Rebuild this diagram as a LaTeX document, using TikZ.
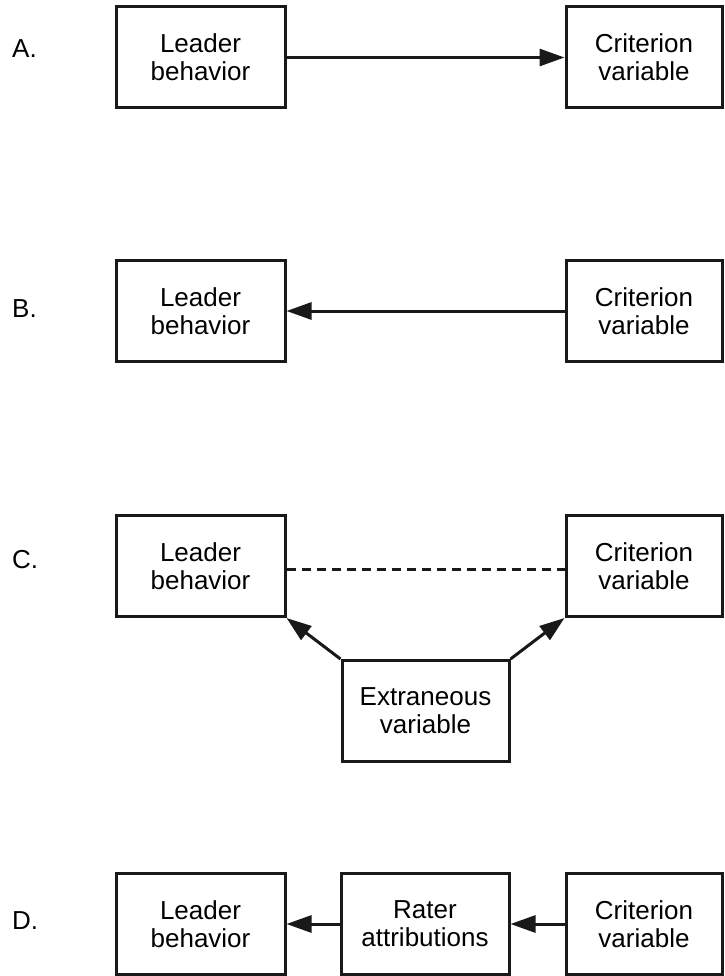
\documentclass[tikz,border=0pt]{standalone}
\usepackage{fontspec}
\setmainfont{Liberation Sans}
\usetikzlibrary{arrows.meta}
\tikzset{
  box/.style={draw=black!90, line width=3pt, rectangle, minimum width=169pt, minimum height=101pt,
    align=center, inner sep=0pt, font=\fontsize{26}{28}\selectfont},
  critbox/.style={box, minimum width=156pt},
  conn/.style={draw=black!90, line width=3pt, -{Triangle[length=25pt,width=17pt]}},
  dashconn/.style={draw=black!90, line width=3pt, dash pattern=on 9pt off 6pt},
  rowlabel/.style={anchor=west, inner sep=0pt, font=\fontsize{26}{28}\selectfont}
}
\begin{document}
\begin{tikzpicture}[x=1pt,y=-1pt]
\useasboundingbox (0,0) rectangle (724,976);
% Row A
\node[rowlabel] (la) at (12,49) {A.};
\node[box] (a1) at (200.5,57.5) {Leader\\behavior};
\node[critbox] (a2) at (644,57.5) {Criterion\\variable};
\draw[conn] (a1) -- (a2);
% Row B
\node[rowlabel] (lb) at (12,309) {B.};
\node[box] (b1) at (200.5,311) {Leader\\behavior};
\node[critbox] (b2) at (644,311) {Criterion\\variable};
\draw[conn] (b2) -- (b1);
% Row C
\node[rowlabel] (lc) at (12,560) {C.};
\node[box] (c1) at (200.5,566) {Leader\\behavior};
\node[critbox] (c2) at (644,566) {Criterion\\variable};
\node[box, minimum width=167pt] (c3) at (425.5,711) {Extraneous\\variable};
\draw[dashconn] ([yshift=-3pt]c1.east) -- ([yshift=-3pt]c2.west);
\draw[conn] (c3.north west) -- (c1.south east);
\draw[conn] (c3.north east) -- (c2.south west);
% Row D
\node[rowlabel] (ld) at (12,921) {D.};
\node[box] (d1) at (200.5,924) {Leader\\behavior};
\node[box, minimum width=168pt] (d2) at (425,924) {Rater\\attributions};
\node[critbox] (d3) at (644,924) {Criterion\\variable};
\draw[conn] (d2) -- (d1);
\draw[conn] (d3) -- (d2);
\end{tikzpicture}
\end{document}
